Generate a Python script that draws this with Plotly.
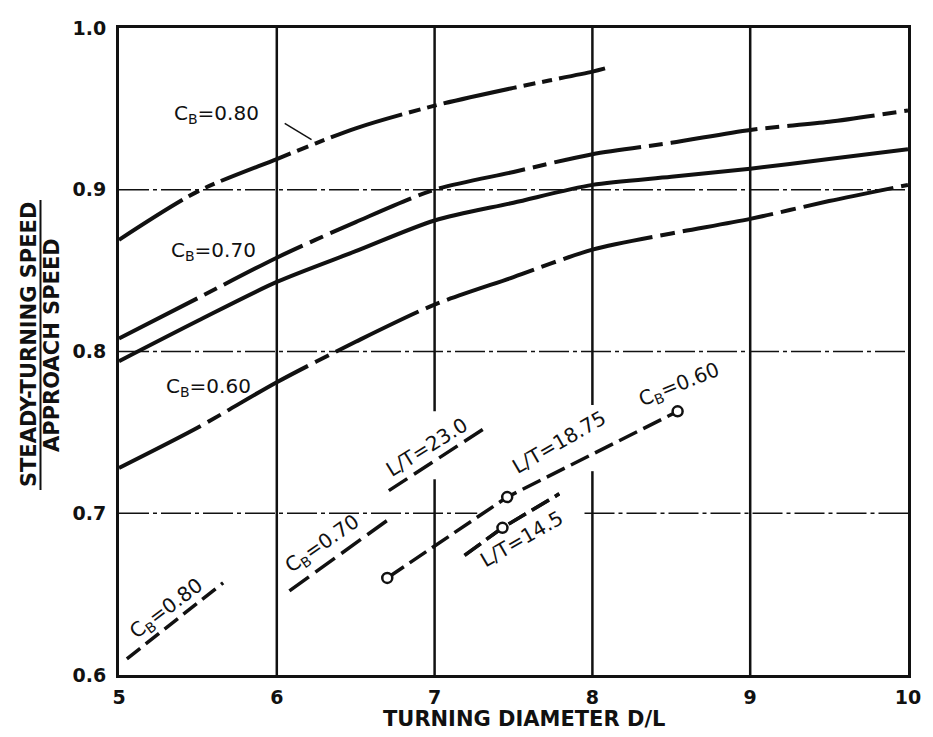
import plotly.graph_objects as go

# Turning diameter D/L
x_full = [5, 5.5, 6, 6.5, 7, 7.5, 8, 8.5, 9, 9.5, 10]

# Speed ratio curves
cb080_x = [5, 5.5, 6, 6.5, 7, 7.5, 8, 8.08]
cb080_y = [0.869, 0.899, 0.919, 0.938, 0.952, 0.963, 0.973, 0.975]
cb070_a_y = [0.808, 0.833, 0.858, 0.880, 0.900, 0.911, 0.922, 0.929, 0.937, 0.942, 0.949]
cb070_b_y = [0.794, 0.819, 0.843, 0.862, 0.881, 0.892, 0.903, 0.908, 0.913, 0.919, 0.925]
cb060_y = [0.728, 0.753, 0.781, 0.806, 0.829, 0.846, 0.863, 0.873, 0.882, 0.893, 0.903]

# Key line segments
key_cb080_x = [5.05, 5.66]
key_cb080_y = [0.610, 0.657]
key_cb070_x = [6.08, 6.72]
key_cb070_y = [0.652, 0.697]
key_lt230_x = [6.71, 7.34]
key_lt230_y = [0.714, 0.754]
key_lt1875_x = [6.70, 7.46, 8.54]
key_lt1875_y = [0.660, 0.710, 0.763]
key_lt145_x = [7.19, 7.43, 7.79]
key_lt145_y = [0.674, 0.691, 0.712]

x_ticks = [5, 6, 7, 8, 9, 10]
x_tick_text = ["5", "6", "7", "8", "9", "10"]
y_ticks = [0.6, 0.7, 0.8, 0.9, 1.0]
y_tick_text = ["0.6", "0.7", "0.8", "0.9", "1.0"]

INK = "#111111"
FONT = "DejaVu Sans"

fig = go.Figure()

# grid drawn as segments so it can break around the key labels
v_breaks = {7: (0.721, 0.763), 8: (0.726, 0.767)}
for gx in x_ticks[1:-1]:
    spans = [(0.6, 1.0)]
    if gx in v_breaks:
        lo, hi = v_breaks[gx]
        spans = [(0.6, lo), (hi, 1.0)]
    for y0, y1 in spans:
        fig.add_shape(type="line", x0=gx, x1=gx, y0=y0, y1=y1, layer="below",
                      line=dict(color=INK, width=2.5))
h_breaks = {0.7: (7.27, 7.95)}
for gy in y_ticks[1:-1]:
    spans = [(5, 10)]
    if gy in h_breaks:
        lo, hi = h_breaks[gy]
        spans = [(5, lo), (hi, 10)]
    for x0, x1 in spans:
        fig.add_shape(type="line", x0=x0, x1=x1, y0=gy, y1=gy, layer="below",
                      line=dict(color=INK, width=1.5, dash="30px,4px,4px,4px"))


def curve(x, y, dash, width=4):
    fig.add_trace(go.Scatter(
        x=x, y=y, mode="lines",
        line=dict(color=INK, width=width, dash=dash, shape="spline", smoothing=0.8),
        hoverinfo="skip", showlegend=False))


curve(cb080_x, cb080_y, "75px,7px,12px,7px,10px,7px")
curve(x_full, cb070_a_y, "88px,8px,14px,8px")
curve(x_full, cb070_b_y, "solid")
curve(x_full, cb060_y, "92px,8px,15px,8px")

# key segments
for kx, ky, dash in [
    (key_cb080_x, key_cb080_y, "17px,7px"),
    (key_cb070_x, key_cb070_y, "24px,8px"),
    (key_lt230_x, key_lt230_y, "22px,8px"),
    (key_lt145_x, key_lt145_y, "20px,7px"),
]:
    fig.add_trace(go.Scatter(
        x=kx, y=ky, mode="lines",
        line=dict(color=INK, width=3.5, dash=dash),
        hoverinfo="skip", showlegend=False))

# circle-ended key lines
for kx, ky, ends in [
    (key_lt1875_x, key_lt1875_y, [0, 1, 2]),
    (key_lt145_x, key_lt145_y, [1]),
]:
    fig.add_trace(go.Scatter(
        x=kx, y=ky, mode="lines",
        line=dict(color=INK, width=3.5, dash="20px,7px"),
        hoverinfo="skip", showlegend=False))
    fig.add_trace(go.Scatter(
        x=[kx[i] for i in ends], y=[ky[i] for i in ends], mode="markers",
        marker=dict(symbol="circle", size=10, color="white",
                    line=dict(color=INK, width=2.5)),
        hoverinfo="skip", showlegend=False))

# leader from the upper C_B = 0.80 label to its curve
fig.add_shape(type="line", x0=6.05, y0=0.941, x1=6.22, y1=0.931,
              line=dict(color=INK, width=1.5))

label_font = dict(family=FONT, size=20, color=INK)
labels = [
    ("C<sub>B</sub>=0.80", 5.62, 0.947, 0),
    ("C<sub>B</sub>=0.70", 5.60, 0.862, 0),
    ("C<sub>B</sub>=0.60", 5.57, 0.778, 0),
    ("C<sub>B</sub>=0.80", 5.30, 0.641, -37),
    ("C<sub>B</sub>=0.70", 6.29, 0.681, -35),
    ("L/T=23.0", 6.95, 0.741, -32),
    ("L/T=18.75", 7.79, 0.744, -30),
    ("C<sub>B</sub>=0.60", 8.55, 0.779, -22),
    ("L/T=14.5", 7.55, 0.684, -30),
]
for text, x, y, ang in labels:
    fig.add_annotation(x=x, y=y, text=text, showarrow=False, textangle=ang,
                       xanchor="center", yanchor="middle", font=label_font)

# axis titles
title_font = dict(family=FONT, size=21, color=INK)
fig.add_annotation(xref="paper", yref="paper", x=0.513, y=-0.068,
                   text="<b>TURNING DIAMETER D/L</b>", showarrow=False,
                   xanchor="center", yanchor="middle", font=title_font)
fig.add_annotation(xref="paper", yref="paper", x=-0.114, y=0.51,
                   text="<b>STEADY-TURNING SPEED</b>", showarrow=False,
                   xanchor="center", yanchor="middle",
                   textangle=-90, font=title_font)
fig.add_annotation(xref="paper", yref="paper", x=-0.085, y=0.51,
                   text="<b>APPROACH SPEED</b>", showarrow=False,
                   xanchor="center", yanchor="middle",
                   textangle=-90, font=title_font)
fig.add_shape(type="line", xref="paper", yref="paper",
              x0=-0.0995, x1=-0.0995, y0=0.286, y1=0.734,
              line=dict(color=INK, width=2))

fig.update_xaxes(
    range=[5, 10], tickvals=x_ticks, ticktext=x_tick_text,
    showgrid=False,
    showline=True, linecolor=INK, linewidth=3, mirror=True,
    ticks="", ticklabelstandoff=3, zeroline=False,
    tickfont=dict(family=FONT, size=19, color=INK, weight="bold"))
fig.update_yaxes(
    range=[0.6, 1.0], tickvals=y_ticks, ticktext=y_tick_text,
    showgrid=False,
    showline=True, linecolor=INK, linewidth=3, mirror=True,
    ticks="", ticklabelstandoff=6, zeroline=False,
    tickfont=dict(family=FONT, size=19, color=INK, weight="bold"))

fig.update_layout(
    width=933, height=737,
    margin=dict(l=119, r=20, t=28, b=62),
    paper_bgcolor="white", plot_bgcolor="white",
    showlegend=False)

fig.write_html("out.html")
